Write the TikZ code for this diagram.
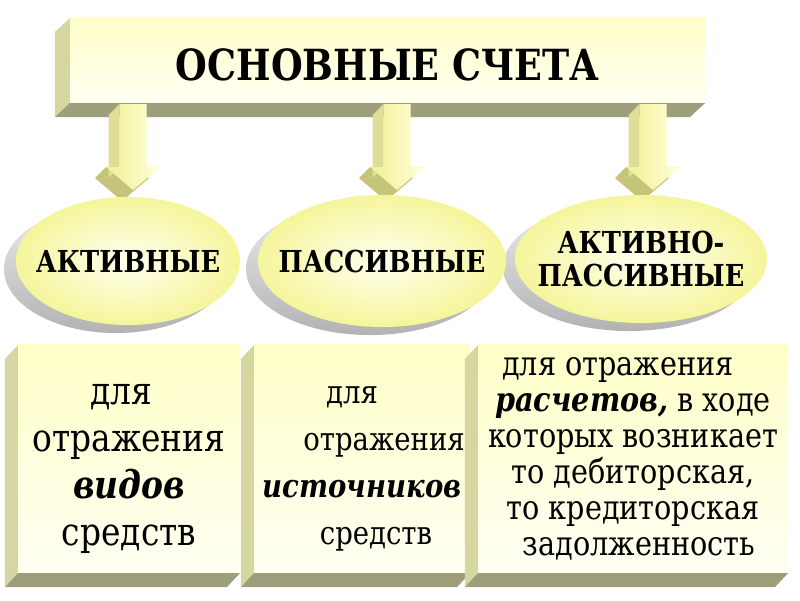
\documentclass[tikz,border=0pt]{standalone}
\usepackage{fontspec}
\setmainfont{DejaVu Serif}[FakeStretch=0.85]
\usetikzlibrary{shapes.geometric, calc, positioning}

\definecolor{facetop}{RGB}{255,255,200}
\definecolor{facebot}{RGB}{255,255,243}
\definecolor{sidelight}{RGB}{214,214,160}
\definecolor{sidedark}{RGB}{158,158,124}
\definecolor{arrowleft}{RGB}{240,240,150}
\definecolor{arrowright}{RGB}{255,255,215}
\definecolor{arrowside}{RGB}{222,222,150}
\definecolor{arrowdark}{RGB}{196,196,122}
\definecolor{ovalin}{RGB}{255,255,240}
\definecolor{ovalout}{RGB}{245,245,155}

\begin{document}
\begin{tikzpicture}[
    x=0.025cm, y=-0.025cm,
    face/.style={rectangle, inner sep=0pt, outer sep=0pt, align=center,
                 top color=facetop, bottom color=facebot},
    oval/.style={ellipse, inner sep=0pt, inner xsep=-0.6cm, outer sep=0pt,
                 inner color=ovalin, outer color=ovalout, align=center,
                 font=\fontsize{21.5}{23}\selectfont\bfseries},
    ovalshadow/.style={top color=gray!15, bottom color=gray!60},
    sideface/.style={fill=sidelight},
    bottomface/.style={fill=sidedark}
  ]
  \useasboundingbox (0,0) rectangle (800,600);

  % Title bar
  \node[face, minimum width=15.875cm, minimum height=2.125cm,
        text height=1cm, text depth=0pt,
        font=\fontsize{30.5}{34}\selectfont\bfseries] (title) at (387.5,60.5)
    {ОСНОВНЫЕ СЧЕТА};
  \fill[sideface] (title.north west) -- (title.south west) -- ++(-15,14)
    -- ($(title.north west)+(-15,14)$) -- cycle;
  \fill[bottomface] (title.south west) -- (title.south east) -- ++(-15,14)
    -- ($(title.south west)+(-15,14)$) -- cycle;

  % Block arrows
  \coordinate (in1) at (133,104);
  \coordinate (in2) at (397,104);
  \coordinate (in3) at (653,104);
  \foreach \a in {in1,in2,in3}{
    \begin{scope}[shift={(\a)}]
      \fill[arrowdark] (-27,63) -- (-38,74) -- (-11,97) -- (16,74) -- (0,63) -- cycle;
      \fill[arrowside] (-13.5,0) -- (-13.5,63) -- (-24.5,74) -- (-24.5,11) -- cycle;
      \shade[left color=arrowleft, right color=arrowright]
        (-13.5,0) -- (13.5,0) -- (13.5,63) -- (27,63) -- (0,86)
        -- (-27,63) -- (-13.5,63) -- cycle;
    \end{scope}
  }

  % Account types
  \shade[ovalshadow] (116,269) ellipse [x radius=2.8cm, y radius=1.6cm];
  \shade[ovalshadow] (370,269) ellipse [x radius=3.1cm, y radius=1.65cm];
  \shade[ovalshadow] (629,267) ellipse [x radius=3.15cm, y radius=1.6cm];
  \node[oval, minimum width=5.6cm, minimum height=3.2cm] (act) at (128,261)
    {АКТИВНЫЕ};
  \node[oval, minimum width=6.2cm, minimum height=3.3cm] (pas) at (382,261)
    {ПАССИВНЫЕ};
  \node[oval, minimum width=6.3cm, minimum height=3.2cm] (actpas) at (641,259)
    {АКТИВНО-\\ПАССИВНЫЕ};

  % What they are for
  \node[face, minimum width=5.55cm, minimum height=5.7cm,
        font=\fontsize{27.5}{33.3}\selectfont] (vid) at (129,459)
    {\rule{0pt}{1cm}для\hspace*{0.4cm}\\отражения\\
     \textbf{\textit{видов}}\hspace*{0.35cm}\\средств};
  \node[face, minimum width=5.4cm, minimum height=5.7cm,
        font=\fontsize{23}{33.3}\selectfont] (ist) at (362,459)
    {\rule{0pt}{0.92cm}для\hspace*{0.5cm}\\\hspace*{1.1cm}отражения\\
     \textbf{\textit{источников}}\\\hspace*{0.7cm}средств};
  \node[face, minimum width=7.75cm, minimum height=5.7cm,
        font=\fontsize{24}{25.6}\selectfont] (ras) at (633,459)
    {для отражения\hspace*{0.75cm}\\\textbf{\textit{расчетов,}} в ходе\\
     которых возникает\\то дебиторская,\hspace*{1cm}\\
     то кредиторская\hspace*{0.5cm}\\\hspace*{0.3cm}задолженность};
  \foreach \n in {vid,ist,ras}{
    \fill[sideface] (\n.north west) -- (\n.south west) -- ++(-13,14)
      -- ($(\n.north west)+(-13,14)$) -- cycle;
    \fill[bottomface] (\n.south west) -- (\n.south east) -- ++(-13,14)
      -- ($(\n.south west)+(-13,14)$) -- cycle;
  }
\end{tikzpicture}
\end{document}
